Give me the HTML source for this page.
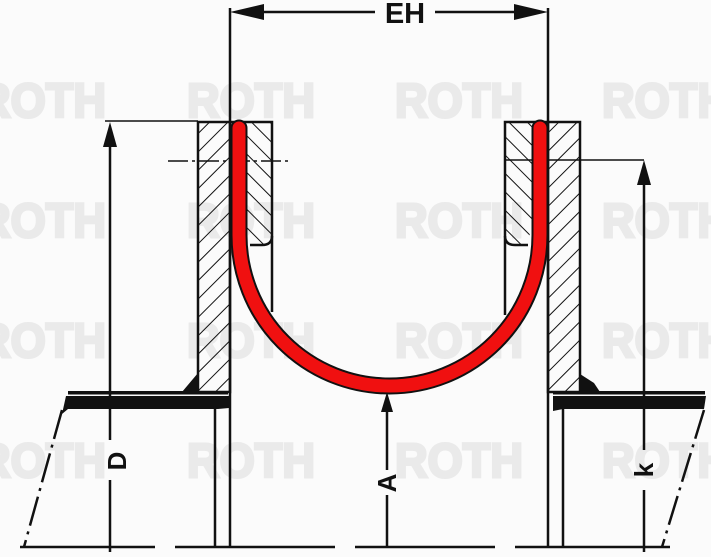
<!DOCTYPE html>
<html><head><style>
html,body{margin:0;padding:0;background:#fbfbfb;}
svg{display:block}
.wm{font-family:"Liberation Sans",sans-serif;font-weight:bold;font-size:48px;fill:#eaeaea;stroke:#eaeaea;stroke-width:3;}
</style></head><body>
<svg width="711" height="557" viewBox="0 0 711 557" xmlns="http://www.w3.org/2000/svg">
<defs>
<pattern id="h1" width="13" height="13" patternUnits="userSpaceOnUse" patternTransform="rotate(45)">
<line x1="0" y1="0" x2="0" y2="13" stroke="#111" stroke-width="2"/>
</pattern>
<pattern id="h2" width="13" height="13" patternUnits="userSpaceOnUse" patternTransform="rotate(-45)">
<line x1="0" y1="0" x2="0" y2="13" stroke="#111" stroke-width="2"/>
</pattern>
</defs>
<g class="wm">
<text x="-22" y="117" textLength="128" lengthAdjust="spacingAndGlyphs">ROTH</text><text x="187" y="117" textLength="128" lengthAdjust="spacingAndGlyphs">ROTH</text><text x="395" y="117" textLength="128" lengthAdjust="spacingAndGlyphs">ROTH</text><text x="602" y="117" textLength="128" lengthAdjust="spacingAndGlyphs">ROTH</text>
<text x="-22" y="237" textLength="128" lengthAdjust="spacingAndGlyphs">ROTH</text><text x="187" y="237" textLength="128" lengthAdjust="spacingAndGlyphs">ROTH</text><text x="395" y="237" textLength="128" lengthAdjust="spacingAndGlyphs">ROTH</text><text x="602" y="237" textLength="128" lengthAdjust="spacingAndGlyphs">ROTH</text>
<text x="-22" y="357" textLength="128" lengthAdjust="spacingAndGlyphs">ROTH</text><text x="187" y="357" textLength="128" lengthAdjust="spacingAndGlyphs">ROTH</text><text x="395" y="357" textLength="128" lengthAdjust="spacingAndGlyphs">ROTH</text><text x="602" y="357" textLength="128" lengthAdjust="spacingAndGlyphs">ROTH</text>
<text x="-22" y="477" textLength="128" lengthAdjust="spacingAndGlyphs">ROTH</text><text x="187" y="477" textLength="128" lengthAdjust="spacingAndGlyphs">ROTH</text><text x="395" y="477" textLength="128" lengthAdjust="spacingAndGlyphs">ROTH</text><text x="602" y="477" textLength="128" lengthAdjust="spacingAndGlyphs">ROTH</text>
</g>
<g stroke="#111" fill="none" stroke-width="2.5">
<line x1="230" y1="8" x2="230" y2="548"/>
<line x1="548" y1="8" x2="548" y2="548"/>
<line x1="250" y1="12" x2="375" y2="12"/>
<line x1="435" y1="12" x2="528" y2="12"/>
<rect x="198" y="122" width="32" height="270" fill="url(#h1)"/>
<path d="M230 122 H272 V236 Q272 245 262 245 H250" fill="url(#h2)"/>
<line x1="272" y1="236" x2="272" y2="312"/>
<rect x="548" y="122" width="32" height="270" fill="url(#h1)"/>
<path d="M548 122 H505 V236 Q505 245 515 245 H528" fill="url(#h2)"/>
<line x1="505" y1="236" x2="505" y2="315"/>
<line x1="168" y1="161" x2="292" y2="161" stroke-width="1.5" stroke-dasharray="20 4 3 4"/>
<line x1="505" y1="160" x2="644" y2="160" stroke-width="1.5"/>
<line x1="105" y1="121" x2="198" y2="121" stroke-width="1.5"/>
<line x1="110" y1="135" x2="110" y2="440"/><line x1="110" y1="480" x2="110" y2="552"/>
<line x1="644" y1="175" x2="644" y2="450"/><line x1="644" y1="490" x2="644" y2="552"/>
<line x1="387" y1="405" x2="387" y2="470"/><line x1="387" y1="495" x2="387" y2="548"/>
<path d="M20 547 H155 M175 547 H335 M355 547 H495 M515 547 H670"/>
<line x1="215" y1="405" x2="215" y2="548"/>
<line x1="563" y1="405" x2="563" y2="548"/>
<line x1="62" y1="410" x2="24" y2="547" stroke-dasharray="30 6 3 6"/>
<line x1="704" y1="410" x2="662" y2="547" stroke-dasharray="30 6 3 6"/>
</g>
<g fill="#111">
<polygon points="230,12 264,4 264,20"/>
<polygon points="548,12 514,4 514,20"/>
<polygon points="110,122 103,147 117,147"/>
<polygon points="644,160 637,185 651,185"/>
<polygon points="387,392 381,412 393,412"/>
<rect x="68" y="391" width="160" height="3.5"/>
<polygon points="66,396 229,396 229,408 218,409 68,409 62,414"/>
<rect x="553" y="391" width="152" height="3.5"/>
<polygon points="553,396 706,396 704,409 563,409 553,411"/>
<polygon points="182,392 198,373 198,392"/>
<polygon points="580,374 580,392 600,392 594,383"/>
</g>
<text x="405" y="23" text-anchor="middle" font-family="Liberation Sans,sans-serif" font-weight="bold" font-size="29" fill="#111">EH</text>
<text transform="translate(126,461) rotate(-90)" text-anchor="middle" font-family="Liberation Sans,sans-serif" font-weight="bold" font-size="26" fill="#111">D</text>
<text transform="translate(396,483) rotate(-90)" text-anchor="middle" font-family="Liberation Sans,sans-serif" font-weight="bold" font-size="26" fill="#111">A</text>
<text transform="translate(653,470) rotate(-90)" text-anchor="middle" font-family="Liberation Sans,sans-serif" font-weight="bold" font-size="26" fill="#111">k</text>
<path d="M239 128 V235 A150.5 151 0 0 0 540 235 V128" fill="none" stroke="#111" stroke-width="17" stroke-linecap="round"/>
<path d="M239 128 V235 A150.5 151 0 0 0 540 235 V128" fill="none" stroke="#f01010" stroke-width="13" stroke-linecap="round"/>
</svg>
</body></html>
